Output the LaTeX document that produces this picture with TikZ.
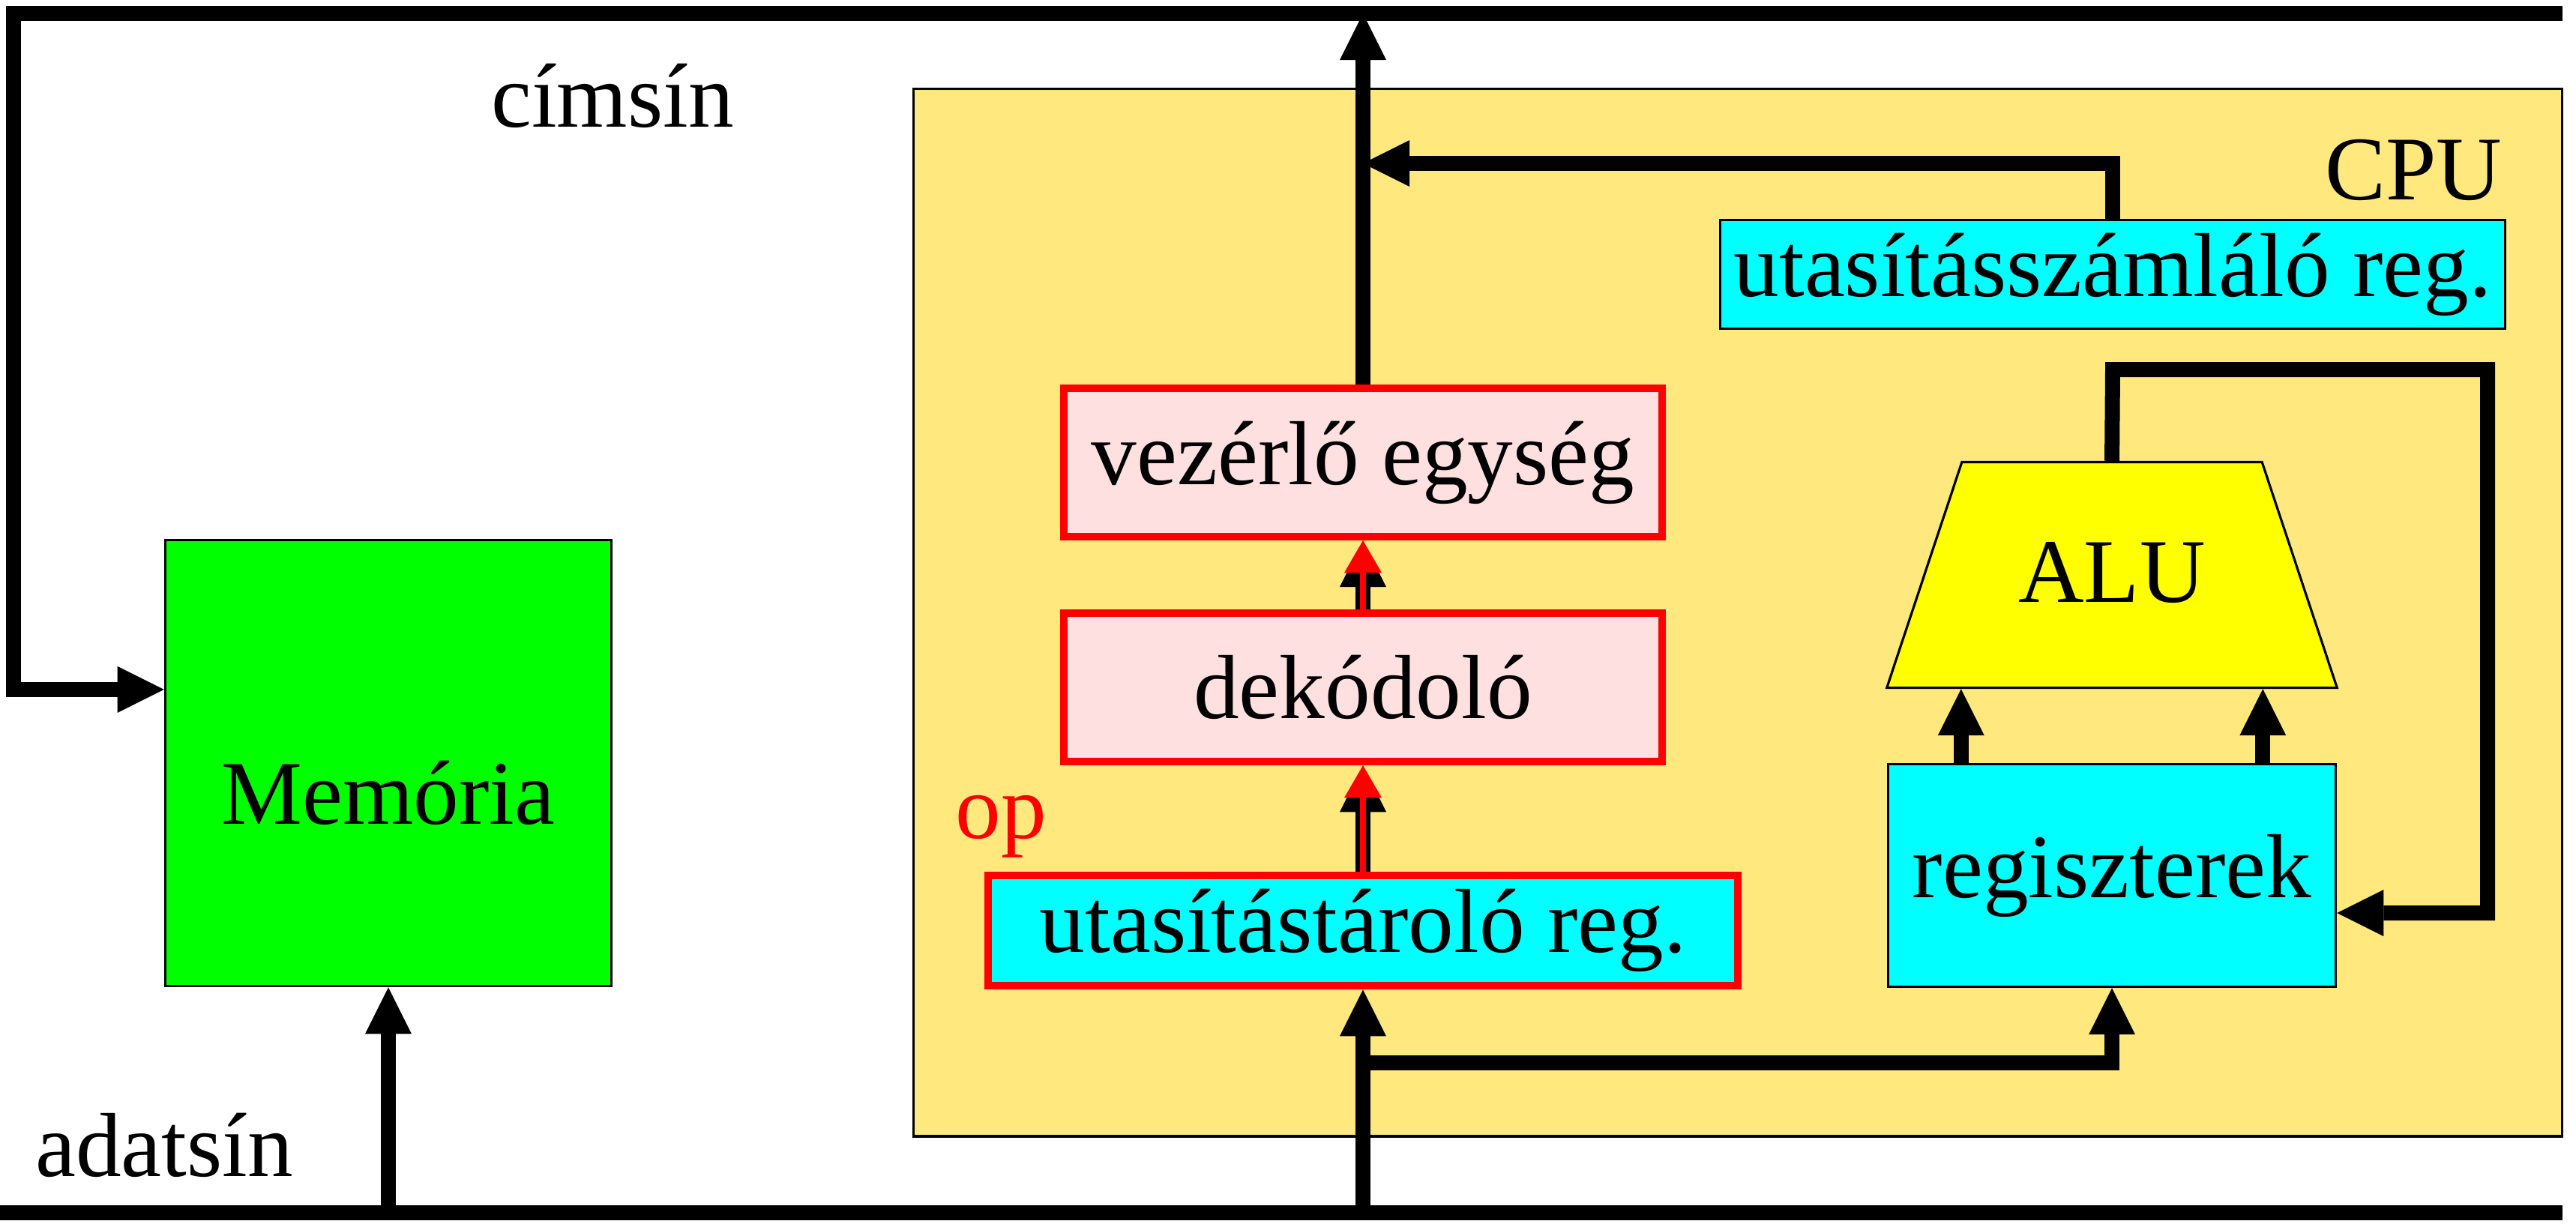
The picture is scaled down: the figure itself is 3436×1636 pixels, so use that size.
\documentclass[tikz,border=0pt]{standalone}
\usepackage{fontspec}
\setmainfont{Liberation Serif}
\usetikzlibrary{arrows.meta, positioning, shapes.geometric}
\definecolor{cpuyellow}{HTML}{FFE97F}
\definecolor{regcyan}{HTML}{00FFFF}
\definecolor{memgreen}{HTML}{00FF00}
\definecolor{aluyellow}{HTML}{FFFF00}
\definecolor{ctrlpink}{HTML}{FFE0E0}
\definecolor{ctrlred}{HTML}{FF0000}

\begin{document}
\begin{tikzpicture}[
    x=0.01cm, y=-0.01cm,
    every node/.style={font=\fontsize{34.5}{41}\selectfont},
    thinbox/.style={rectangle, draw, line width=0.9pt, inner sep=0pt, align=center},
    ctrlbox/.style={
      rectangle, draw=ctrlred, line width=0.1cm, fill=ctrlpink, inner sep=0pt,
      minimum width=7.98cm, minimum height=1.98cm
    },
    regbox/.style={thinbox, fill=regcyan},
    alushape/.style={
      trapezium, draw, line width=0.9pt, fill=aluyellow, inner sep=0pt,
      trapezium angle=71.6, trapezium stretches=false,
      text width=4cm, align=center, text height=1.87cm, text depth=1.14cm
    },
    bus/.style={line width=0.2cm},
    dataarrow/.style={line width=0.2cm, -{Triangle[length=0.62cm, width=0.62cm, line width=0pt]}},
    oparrow/.style={draw=ctrlred, line width=0.08cm, -{Triangle[length=0.43cm, width=0.5cm, line width=0pt]}},
]
  \useasboundingbox (0,0) rectangle (3436,1636);

  % CPU background
  \node[thinbox, fill=cpuyellow, minimum width=21.97cm, minimum height=13.97cm] (cpu) at (2318,817) {};
  \node[anchor=base east] (cpulbl) at (3350,266) {CPU};

  % bus endpoints
  \coordinate (cimE) at (3418,18);
  \coordinate (cimC) at (18,18);
  \coordinate (adatW) at (0,1618);
  \coordinate (adatE) at (3418,1618);
  \coordinate (pcjoin) at (1818,218);
  \coordinate (branch) at (1818,1418);
  \coordinate (aluup) at (2818,493);
  \coordinate (loopR) at (3318,493);

  % boxes
  \node[thinbox, fill=memgreen, minimum width=5.95cm, minimum height=5.95cm] (mem) at (518,1018) {};
  \node (memtxt) at ([yshift=-0.4cm]mem.center) {Memória};

  \node[ctrlbox] (vez) at (1818,617) {vezérlő egység};
  \node[ctrlbox, below=0.92cm of vez] (dek) {dekódoló};
  \node[ctrlbox, fill=regcyan, minimum width=10cm, minimum height=1.47cm, below=1.42cm of dek] (utr) {utasítástároló reg.};
  \node[anchor=base, text=ctrlred] (op) at (1335,1118) {op};

  \node[regbox, minimum width=10.47cm, minimum height=1.45cm] (uszr) at (2818,366) {utasításszámláló reg.};
  \node[alushape] (alu) at (2817,767) {ALU};
  \node[regbox, minimum width=5.97cm, minimum height=2.97cm] (regs) at (2817,1168) {regiszterek};

  \node[anchor=base] (cimsin) at (817,169) {címsín};
  \node[anchor=base] (adatsin) at (219,1569) {adatsín};

  % connectors inside the CPU
  \draw[dataarrow] (uszr.north) |- (pcjoin);
  \draw[dataarrow] (utr) -- (dek);
  \draw[oparrow] (utr) -- (dek);
  \draw[dataarrow] (dek) -- (vez);
  \draw[oparrow] (dek) -- (vez);
  \draw[dataarrow] (regs.north -| alu.top left corner) -- (alu.south -| alu.top left corner);
  \draw[dataarrow] (regs.north -| alu.top right corner) -- (alu.south -| alu.top right corner);
  \draw[dataarrow] (alu.north) -- (aluup) -- (loopR) |- ([yshift=-0.5cm]regs.east);
  \draw[dataarrow] (branch) -| (regs.south);

  % main vertical line
  \draw[dataarrow] (utr.south |- adatE) -- (utr.south);
  \draw[dataarrow] (vez.north) -- (vez.north |- cimE);
  \draw[dataarrow] (mem.south |- adatE) -- (mem.south);

  % buses
  \draw[bus] (adatW) -- (adatE);
  \draw[dataarrow] (cimE) -- (cimC) |- ([yshift=0.98cm]mem.west);
\end{tikzpicture}
\end{document}
